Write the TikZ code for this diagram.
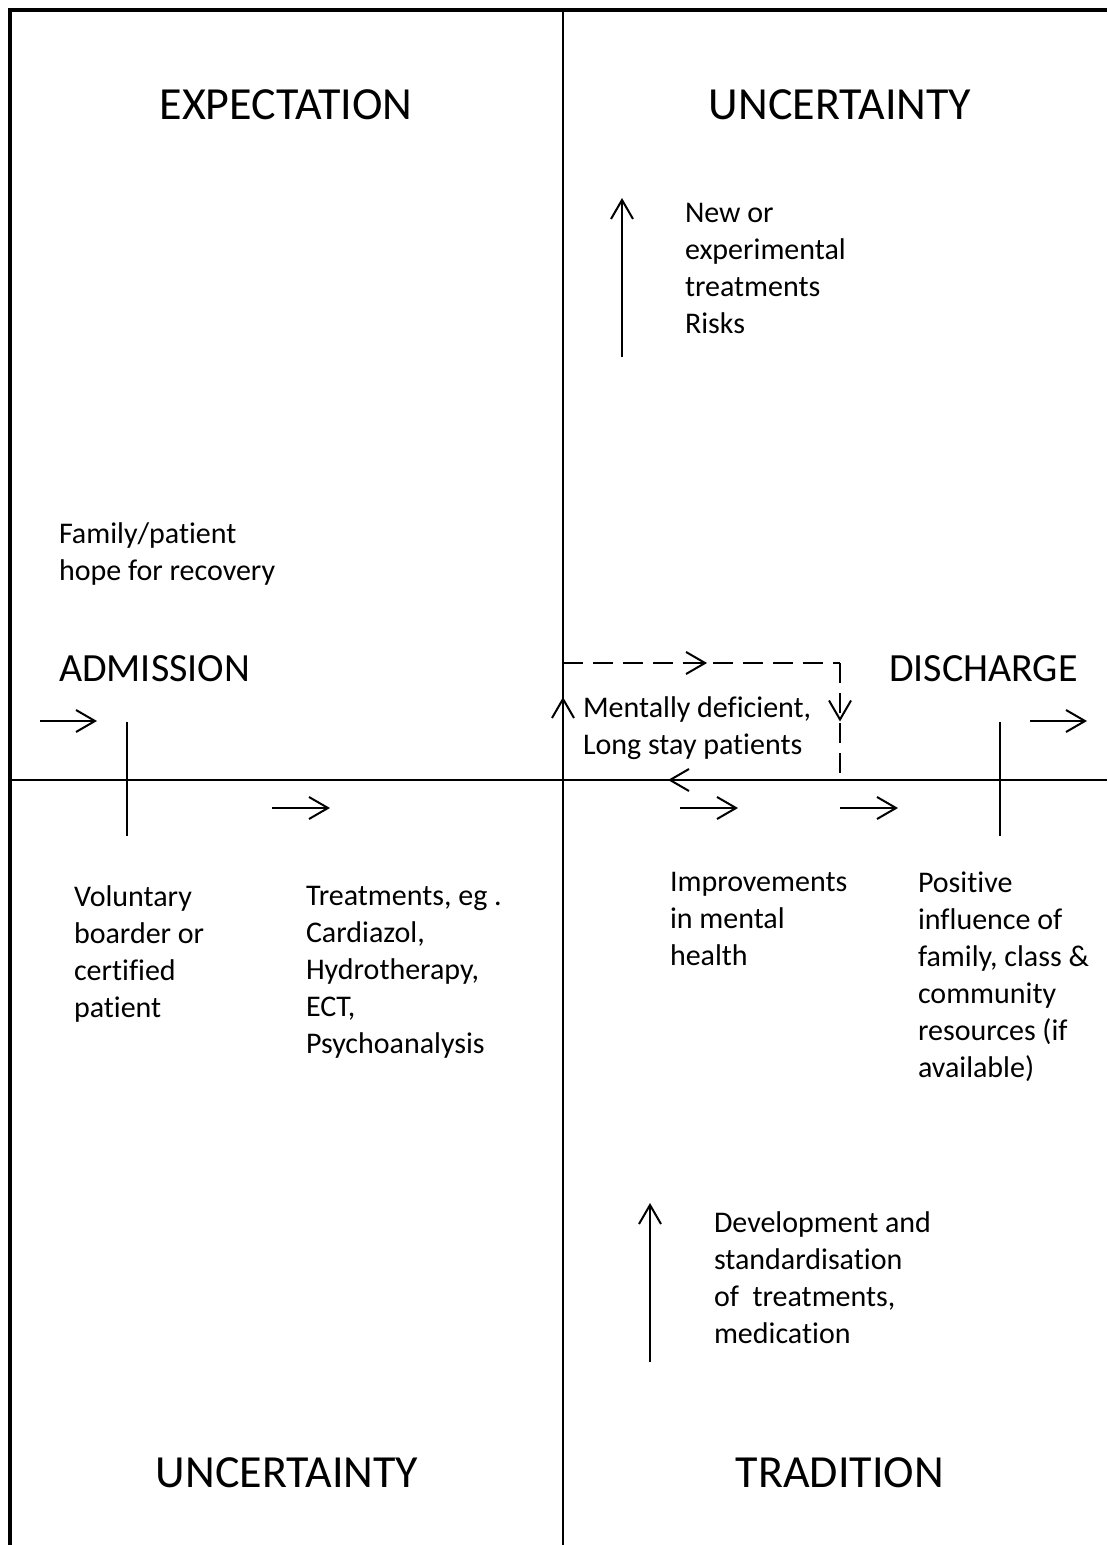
\documentclass[tikz,border=0pt]{standalone}
\usepackage{fontspec}
\setmainfont{Carlito}[Ligatures=NoCommon]
\usetikzlibrary{arrows.meta,decorations.markings}

\begin{document}
\begin{tikzpicture}[x=0.5pt, y=-0.5pt, line width=1pt]
      \tikzset{
	  quarter/.style={inner sep=0, font=\fontsize{23}{27}\selectfont},
	  stage/.style={inner sep=0, anchor=west, font=\fontsize{20}{24}\selectfont},
	  note/.style={inner sep=0, anchor=north west, align=left, font=\fontsize{15}{18.5}\selectfont},
	  barb/.tip={Straight Barb[length=9.5pt,width=11pt,line width=1pt]},
	  flow/.style={-barb},
	  loop/.style={dashed, dash pattern=on 10pt off 5pt, postaction={decorate}},
	  tick/.style={line width=1pt}
      }
      \useasboundingbox (0,0) rectangle (1107,1545);

      % frame and quarters
      \draw[line width=2.4pt] (10,1545) -- (10,10) -- (1107,10);
      \draw (563,10) -- (563,1545);
      \draw (10,780) -- (1107,780);

      \node at (286,105) [quarter] (expect) {EXPECTATION};
      \node at (840,105) [quarter] (uncertTop) {UNCERTAINTY};
      \node at (287,1473) [quarter] (uncertBot) {UNCERTAINTY};
      \node at (840,1473) [quarter] (trad) {TRADITION};

      \node at (58,669) [stage] (admit) {ADMISSION};
      \node at (888,669) [stage] (discharge) {DISCHARGE};

      % notes
      \node at (684,202) [note] (newtreat) {New or\\experimental\\treatments\\Risks};
      \node at (58,522) [note] (hope) {Family/patient\\hope for recovery};
      \node at (582,696) [note] (longstay) {Mentally deficient,\\Long stay patients};
      \node at (73,885) [note] (voluntary) {Voluntary\\boarder or\\certified\\patient};
      \node at (305,885) [note] (treat) {Treatments, eg .\\Cardiazol,\\Hydrotherapy,\\ECT,\\Psychoanalysis};
      \node at (669,871) [note] (improve) {Improvements\\in mental\\health};
      \node at (917,871) [note] (positive) {Positive\\influence of\\family, class \&\\community\\resources (if\\available)};
      \node at (713,1211) [note] (develop) {Development and\\standardisation\\of~ treatments,\\medication};

      % arrows
      \coordinate (riskA) at (622,357);  \coordinate (riskB) at (622,198);
      \coordinate (devA) at (650,1362);  \coordinate (devB) at (650,1203);
      \draw[flow] (riskA) -- (riskB);
      \draw[flow] (devA) -- (devB);

      \coordinate (inA) at (40,721);    \coordinate (inB) at (97,721);
      \coordinate (outA) at (1030,721); \coordinate (outB) at (1087,721);
      \draw[flow] (inA) -- (inB);
      \draw[flow] (outA) -- (outB);

      \coordinate (stepA) at (272,808); \coordinate (stepB) at (330,808);
      \coordinate (stepC) at (680,808); \coordinate (stepD) at (738,808);
      \coordinate (stepE) at (840,808); \coordinate (stepF) at (898,808);
      \draw[flow] (stepA) -- (stepB);
      \draw[flow] (stepC) -- (stepD);
      \draw[flow] (stepE) -- (stepF);

      % admission and discharge ticks
      \draw[tick] (127,722) -- (127,836);
      \draw[tick] (1000,722) -- (1000,836);

      % long stay loop
      \coordinate (loopA) at (563,663);
      \coordinate (loopB) at (840,663);
      \coordinate (loopC) at (840,780);
      \draw[loop, decoration={markings, mark=at position 0.52 with {\arrow{barb}}}] (loopA) -- (loopB);
      \draw[loop, decoration={markings, mark=at position 0.5 with {\arrow{barb}}}] (loopB) -- (loopC);
      \coordinate (backA) at (690,780);  \coordinate (backB) at (668,780);
      \coordinate (upA) at (563,715);    \coordinate (upB) at (563,697);
      \draw[flow] (backA) -- (backB);
      \draw[flow] (upA) -- (upB);
\end{tikzpicture}
\end{document}
